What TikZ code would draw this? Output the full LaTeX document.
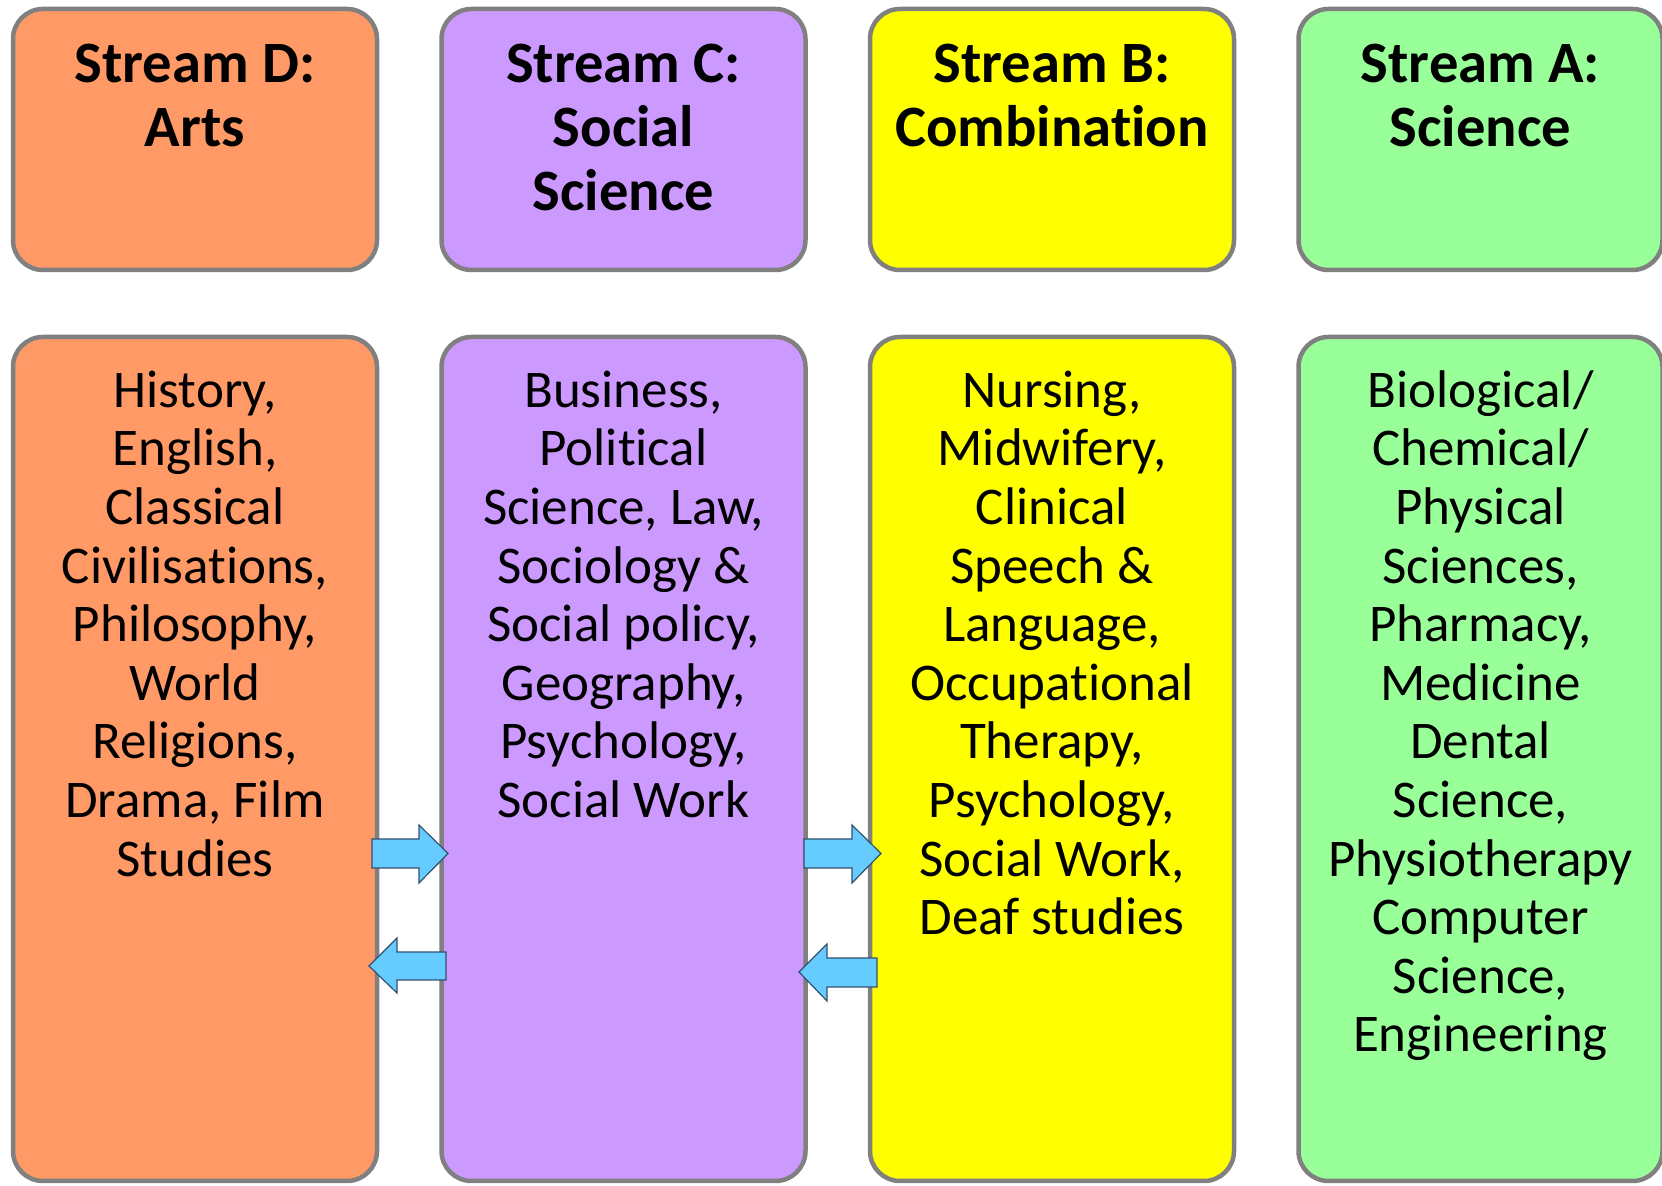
\documentclass[tikz,border=0pt]{standalone}
\usepackage{fontspec}
\setmainfont{Carlito}[Ligatures=NoCommon]
\usetikzlibrary{positioning}

\begin{document}
\begin{tikzpicture}[x=0.5pt,y=-0.5pt,node distance=30pt,
	stream box/.style={draw=boxgray,line width=2.25pt,rounded corners=15pt,minimum width=182pt,inner sep=0pt},
	head box/.style={stream box,minimum height=130.5pt},
	list box/.style={stream box,minimum height=422pt},
	head text/.style={anchor=north,align=center,inner sep=0pt,font=\fontsize{29.3}{32}\selectfont\bfseries},
	list text/.style={anchor=north,align=center,inner sep=0pt,font=\fontsize{26.5}{29.3}\selectfont},
	block arrow/.style={fill=arrowblue,draw=arrowline,line width=0.6pt}]
	
	\definecolor{boxgray}{RGB}{128,128,128}
	\definecolor{artsorange}{RGB}{255,153,102}
	\definecolor{socpurple}{RGB}{204,153,255}
	\definecolor{combyellow}{RGB}{255,255,0}
	\definecolor{scigreen}{RGB}{153,255,153}
	\definecolor{arrowblue}{RGB}{102,204,255}
	\definecolor{arrowline}{RGB}{50,80,110}
	
	\useasboundingbox (0,0) rectangle (1662,1186);
	
	% header boxes
	\node[head box, fill=artsorange] (hdD) at (195,139.5) {};
	\node[head box, fill=socpurple] (hdC) [right=of hdD] {};
	\node[head box, fill=combyellow] (hdB) [right=of hdC] {};
	\node[head box, fill=scigreen] (hdA) [right=of hdB] {};
	
	% subject boxes
	\node[list box, fill=artsorange] (lsD) [below=31.25pt of hdD] {};
	\node[list box, fill=socpurple] (lsC) [below=31.25pt of hdC] {};
	\node[list box, fill=combyellow] (lsB) [below=31.25pt of hdB] {};
	\node[list box, fill=scigreen] (lsA) [below=31.25pt of hdA] {};
	
	\node[head text] (tD) at ([yshift=-15.2pt]hdD.north) {\strut Stream D:\\Arts};
	\node[head text] (tC) at ([yshift=-15.2pt]hdC.north) {\strut Stream C:\\Social\\Science};
	\node[head text] (tB) at ([yshift=-15.2pt]hdB.north) {\strut Stream B:\\Combination};
	\node[head text] (tA) at ([yshift=-15.2pt]hdA.north) {\strut Stream A:\\Science};
	
	\node[list text] (sD) at ([yshift=-15.6pt]lsD.north) {\strut History,\\English,\\Classical\\Civilisations,\\Philosophy,\\World\\Religions,\\Drama, Film\\Studies};
	\node[list text] (sC) at ([yshift=-15.6pt]lsC.north) {\strut Business,\\Political\\Science, Law,\\Sociology \&\\Social policy,\\Geography,\\Psychology,\\Social Work};
	\node[list text] (sB) at ([yshift=-15.6pt]lsB.north) {\strut Nursing,\\Midwifery,\\Clinical\\Speech \&\\Language,\\Occupational\\Therapy,\\Psychology,\\Social Work,\\Deaf studies};
	\node[list text] (sA) at ([yshift=-15.6pt]lsA.north) {\strut Biological/\\Chemical/\\Physical\\Sciences,\\Pharmacy,\\Medicine\\Dental\\Science,\\Physiotherapy\\Computer\\Science,\\Engineering};
	
	% transfer arrows
	\draw[block arrow] (372,839) -- (419,839) -- (419,825) -- (448,853.5) -- (419,883) -- (419,868) -- (372,868) -- cycle;
	\draw[block arrow] (446,952) -- (397,952) -- (397,938) -- (369,966) -- (397,993) -- (397,980) -- (446,980) -- cycle;
	\draw[block arrow] (804,839) -- (852,839) -- (852,825) -- (881,853.5) -- (852,883) -- (852,868) -- (804,868) -- cycle;
	\draw[block arrow] (877,958) -- (827,958) -- (827,944) -- (799,972) -- (827,1001) -- (827,987) -- (877,987) -- cycle;
\end{tikzpicture}
\end{document}
